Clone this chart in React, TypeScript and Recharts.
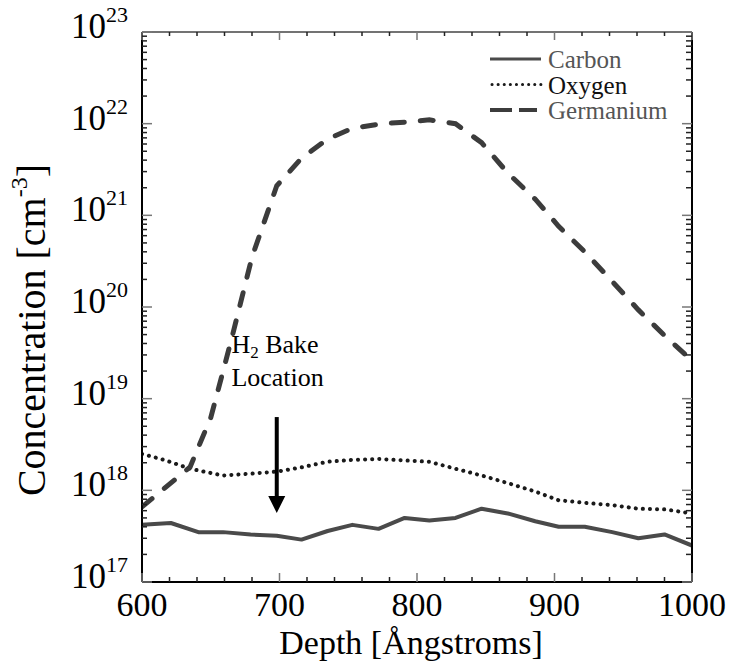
import React from 'react';
import { LineChart, Line, XAxis, YAxis, ReferenceLine, ReferenceDot, Legend } from 'recharts';

// ---------- data ----------
const carbonDepth = [600, 621, 641, 659, 679, 698, 716, 735, 753, 772, 791, 809, 828, 847, 866, 886, 903, 922, 942, 961, 980, 1000];
const carbonConc = [4.2e17, 4.4e17, 3.5e17, 3.5e17, 3.3e17, 3.2e17, 2.9e17, 3.6e17, 4.2e17, 3.8e17, 5.0e17, 4.7e17, 5.0e17, 6.3e17, 5.6e17, 4.6e17, 4.0e17, 4.0e17, 3.5e17, 3.0e17, 3.3e17, 2.5e17];

const oxygenDepth = [600, 616, 635, 659, 679, 698, 716, 735, 753, 772, 791, 809, 828, 847, 866, 886, 903, 922, 942, 961, 980, 1000];
const oxygenConc = [2.5e18, 2.15e18, 1.72e18, 1.45e18, 1.52e18, 1.6e18, 1.78e18, 2.05e18, 2.15e18, 2.2e18, 2.12e18, 2.05e18, 1.72e18, 1.45e18, 1.2e18, 9.7e17, 7.8e17, 7.3e17, 6.9e17, 6.3e17, 6.2e17, 5.6e17];

const germaniumDepth = [600, 635, 650, 665, 680, 698, 716, 735, 753, 775, 796, 809, 828, 847, 866, 886, 903, 922, 942, 961, 980, 1000];
const germaniumConc = [6.6e17, 1.8e18, 6.2e18, 4.4e19, 3.5e20, 2.1e21, 4.2e21, 6.8e21, 8.9e21, 1.0e22, 1.05e22, 1.1e22, 1.0e22, 6.2e21, 2.9e21, 1.5e21, 7.6e20, 4.0e20, 1.9e20, 9.3e19, 4.9e19, 2.6e19];

const seriesNames = ['Carbon', 'Oxygen', 'Germanium'];

const xTicks = [600, 620, 640, 660, 680, 700, 720, 740, 760, 780, 800, 820, 840, 860, 880, 900, 920, 940, 960, 980, 1000];
const xLabelTicks = [600, 700, 800, 900, 1000];
const yExponents = [17, 18, 19, 20, 21, 22, 23];
const yMantissas = [1, 2, 3, 4, 5, 6, 7, 8, 9];

const xTitle = 'Depth [Ångstroms]';
const yTitle = 'Concentration [cm';
const yTitleSup = '-3';
const annotationLines = ['Bake', 'Location'];
const annotationDepth = 665;
const annotationConc = 3.15e19;
const arrowDepth = 698;
const arrowTop = 6.3e18;
const arrowHeadTop = 8.5e17;
const arrowTip = 5.66e17;

// ---------- derived ----------
const toSeries = (d: number[], c: number[]) => d.map((depth, i) => ({ depth, conc: c[i] }));
const carbonData = toSeries(carbonDepth, carbonConc);
const oxygenData = toSeries(oxygenDepth, oxygenConc);
const germaniumData = toSeries(germaniumDepth, germaniumConc);

const yTicks: number[] = [];
yExponents.forEach((e, i) => {
  if (i === yExponents.length - 1) {
    yTicks.push(Number(`1e${e}`));
  } else {
    yMantissas.forEach((m) => yTicks.push(Number(`${m}e${e}`)));
  }
});
const yDomain: [number, number] = [Number(`1e${yExponents[0]}`), Number(`1e${yExponents[yExponents.length - 1]}`)];
const majorExp = (v: number) => {
  for (const e of yExponents) if (Math.abs(v / Number(`1e${e}`) - 1) < 1e-9) return e;
  return null;
};

const FONT = "'Liberation Serif', 'Times New Roman', Times, serif";
const MAJOR_COLOR = '#777';
const MINOR_COLOR = '#222';

const styles = {
  Carbon: { stroke: '#4a4a4a', width: 4, dash: undefined as string | undefined, text: '#555' },
  Oxygen: { stroke: '#1a1a1a', width: 4, dash: '0.1 7', text: '#111' },
  Germanium: { stroke: '#3c3c3c', width: 5, dash: '13 16', text: '#555' },
};

// ---------- ticks ----------
const BottomTick = (props: any) => {
  const { x, y, payload } = props;
  const v = payload.value;
  const major = xLabelTicks.includes(v);
  return (
    <g>
      <line x1={x} y1={y} x2={x} y2={y - (major ? 9 : 5)} stroke={major ? MAJOR_COLOR : MINOR_COLOR} strokeWidth={1.5} />
      {major && (
        <text x={x} y={y + 34} textAnchor="middle" fontFamily={FONT} fontSize={34} fill="#000">{v}</text>
      )}
    </g>
  );
};

const TopTick = (props: any) => {
  const { x, y, payload } = props;
  const major = xLabelTicks.includes(payload.value);
  return <line x1={x} y1={y} x2={x} y2={y + (major ? 8 : 4)} stroke={major ? MAJOR_COLOR : MINOR_COLOR} strokeWidth={1.5} />;
};

const LeftTick = (props: any) => {
  const { x, y, payload } = props;
  const e = majorExp(payload.value);
  const major = e !== null;
  return (
    <g>
      <line x1={x} y1={y} x2={x + (major ? 10 : 5)} y2={y} stroke={major ? MAJOR_COLOR : MINOR_COLOR} strokeWidth={1.5} />
      {major && (
        <text x={x - 14} y={y + 6} textAnchor="end" fontFamily={FONT} fontSize={35} fill="#000">
          10<tspan fontSize={22} dy={-16}>{e}</tspan>
        </text>
      )}
    </g>
  );
};

const RightTick = (props: any) => {
  const { x, y, payload } = props;
  const major = majorExp(payload.value) !== null;
  return <line x1={x} y1={y} x2={x - (major ? 10 : 6)} y2={y} stroke={major ? MAJOR_COLOR : MINOR_COLOR} strokeWidth={1.5} />;
};

// ---------- labels ----------
const XTitle = (props: any) => {
  const vb = props.viewBox || {};
  return (
    <text x={vb.x + vb.width / 2 - 6} y={vb.y + 72} textAnchor="middle" fontFamily={FONT} fontSize={34} fill="#000">
      {xTitle}
    </text>
  );
};

const YTitle = (props: any) => {
  const vb = props.viewBox || {};
  const cx = vb.x + vb.width - 97;
  const cy = vb.y + vb.height / 2 + 23;
  return (
    <text x={cx} y={cy} transform={`rotate(-90, ${cx}, ${cy})`} textAnchor="middle" fontFamily={FONT} fontSize={40} fill="#000">
      {yTitle}
      <tspan fontSize={24} dy={-18}>{yTitleSup}</tspan>
      <tspan dy={18}>]</tspan>
    </text>
  );
};

const AnnotationText = (props: any) => {
  const { cx, cy } = props;
  return (
    <g>
      <text x={cx} y={cy} fontFamily={FONT} fontSize={26} fill="#000">
        H<tspan fontSize={17} dy={5}>2</tspan><tspan dy={-5}>{' ' + annotationLines[0]}</tspan>
      </text>
      <text x={cx} y={cy + 33} fontFamily={FONT} fontSize={26} fill="#000">{annotationLines[1]}</text>
    </g>
  );
};

const ArrowHead = (props: any) => {
  const { cx, cy } = props;
  return <polygon points={`${cx - 8.5},${cy - 17} ${cx + 8.5},${cy - 17} ${cx},${cy}`} fill="#000" />;
};

const LegendContent = () => (
  <svg width={210} height={82} style={{ display: 'block', overflow: 'visible' }}>
    {seriesNames.map((name, i) => {
      const s = (styles as any)[name];
      const ly = 14 + i * 25.5;
      return (
        <g key={name}>
          <line
            x1={name === 'Oxygen' ? 6 : 4}
            y1={ly}
            x2={name === 'Germanium' ? 51 : 55}
            y2={ly}
            stroke={s.stroke}
            strokeWidth={name === 'Oxygen' ? 3 : s.width - 1}
            strokeDasharray={name === 'Germanium' ? '22 7' : name === 'Oxygen' ? '0.1 6' : undefined}
            strokeLinecap={name === 'Oxygen' ? 'round' : 'butt'}
          />
          <text x={62} y={ly + 9} fontFamily={FONT} fontSize={25} fill={s.text}>{name}</text>
        </g>
      );
    })}
  </svg>
);

export default function App() {
  return (
    <div style={{ position: 'absolute', left: 0, top: 0, width: 735, height: 665, background: '#fff' }}>
      <LineChart width={735} height={665} margin={{ top: 31, right: 42, bottom: 82, left: 141 }}>
        <XAxis
          xAxisId="bottom"
          dataKey="depth"
          type="number"
          domain={[600, 1000]}
          ticks={xTicks}
          interval={0}
          orientation="bottom"
          height={1}
          tickSize={0}
          tickMargin={0}
          tickLine={false}
          tick={BottomTick}
          axisLine={{ stroke: '#000', strokeWidth: 2 }}
          allowDataOverflow
          label={<XTitle />}
        />
        <XAxis
          xAxisId="top"
          dataKey="depth"
          type="number"
          domain={[600, 1000]}
          ticks={xTicks}
          interval={0}
          orientation="top"
          height={1}
          tickSize={0}
          tickMargin={0}
          tickLine={false}
          tick={TopTick}
          axisLine={{ stroke: '#444', strokeWidth: 1.5 }}
          allowDataOverflow
        />
        <YAxis
          yAxisId="left"
          scale="log"
          type="number"
          domain={yDomain}
          ticks={yTicks}
          interval={0}
          orientation="left"
          width={1}
          tickSize={0}
          tickMargin={0}
          tickLine={false}
          tick={LeftTick}
          axisLine={{ stroke: '#000', strokeWidth: 2 }}
          allowDataOverflow
          label={<YTitle />}
        />
        <YAxis
          yAxisId="right"
          scale="log"
          type="number"
          domain={yDomain}
          ticks={yTicks}
          interval={0}
          orientation="right"
          width={1}
          tickSize={0}
          tickMargin={0}
          tickLine={false}
          tick={RightTick}
          axisLine={{ stroke: '#000', strokeWidth: 2 }}
          allowDataOverflow
        />
        <Line
          xAxisId="bottom"
          yAxisId="left"
          data={oxygenData}
          dataKey="conc"
          name={seriesNames[1]}
          stroke={styles.Oxygen.stroke}
          strokeWidth={styles.Oxygen.width}
          strokeDasharray={styles.Oxygen.dash}
          strokeLinecap="round"
          dot={false}
          activeDot={false}
          isAnimationActive={false}
          type="linear"
        />
        <Line
          xAxisId="bottom"
          yAxisId="left"
          data={carbonData}
          dataKey="conc"
          name={seriesNames[0]}
          stroke={styles.Carbon.stroke}
          strokeWidth={styles.Carbon.width}
          strokeLinejoin="round"
          dot={false}
          activeDot={false}
          isAnimationActive={false}
          type="linear"
        />
        <Line
          xAxisId="bottom"
          yAxisId="left"
          data={germaniumData}
          dataKey="conc"
          name={seriesNames[2]}
          stroke={styles.Germanium.stroke}
          strokeWidth={styles.Germanium.width}
          strokeDasharray={styles.Germanium.dash}
          strokeLinecap="round"
          dot={false}
          activeDot={false}
          isAnimationActive={false}
          type="linear"
        />
        <ReferenceLine
          xAxisId="bottom"
          yAxisId="left"
          segment={[{ x: arrowDepth, y: arrowTop }, { x: arrowDepth, y: arrowHeadTop }]}
          stroke="#000"
          strokeWidth={4}
          ifOverflow="visible"
        />
        <ReferenceDot xAxisId="bottom" yAxisId="left" x={arrowDepth} y={arrowTip} r={1} shape={ArrowHead} ifOverflow="visible" />
        <ReferenceDot xAxisId="bottom" yAxisId="left" x={annotationDepth} y={annotationConc} r={1} shape={AnnotationText} ifOverflow="visible" />
        <Legend
          layout="vertical"
          align="center"
          verticalAlign="middle"
          content={LegendContent}
          wrapperStyle={{ left: 486, top: 45, width: 210, height: 82 }}
        />
      </LineChart>
    </div>
  );
}
